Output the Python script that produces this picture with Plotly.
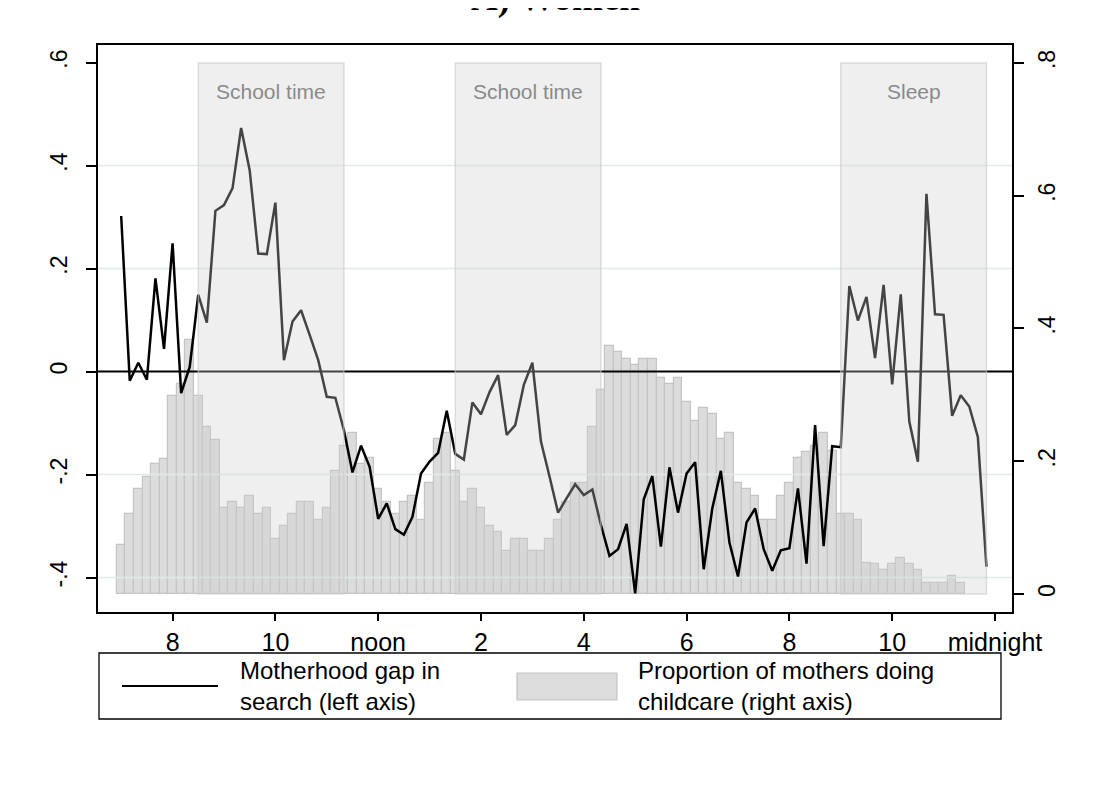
import numpy as np
import plotly.graph_objects as go

# ---------------- data ----------------
# Motherhood gap in search (left axis), every 10 minutes from 7:00 to 23:50
gap = [0.302, -0.018, 0.017, -0.016, 0.181, 0.044, 0.249, -0.042, 0.009, 0.149,
       0.095, 0.312, 0.323, 0.356, 0.473, 0.391, 0.229, 0.228, 0.328, 0.022,
       0.097, 0.119, 0.071, 0.022, -0.049, -0.051, -0.114, -0.196, -0.144, -0.185,
       -0.286, -0.256, -0.306, -0.317, -0.282, -0.198, -0.175, -0.158, -0.076, -0.160,
       -0.171, -0.060, -0.083, -0.040, -0.007, -0.123, -0.104, -0.026, 0.017, -0.136,
       -0.204, -0.274, -0.246, -0.219, -0.240, -0.229, -0.298, -0.358, -0.345, -0.296,
       -0.431, -0.248, -0.203, -0.340, -0.186, -0.274, -0.198, -0.176, -0.384, -0.266,
       -0.193, -0.332, -0.398, -0.293, -0.266, -0.345, -0.387, -0.347, -0.343, -0.227,
       -0.373, -0.104, -0.339, -0.145, -0.147, 0.166, 0.099, 0.145, 0.026, 0.168,
       -0.025, 0.150, -0.097, -0.175, 0.345, 0.111, 0.110, -0.086, -0.046, -0.068,
       -0.127, -0.379]

# Proportion of mothers doing childcare (right axis), every 10 minutes from 7:00 to 23:20
childcare = [0.074, 0.120, 0.158, 0.176, 0.196, 0.204, 0.298, 0.316, 0.383, 0.298,
             0.251, 0.232, 0.130, 0.139, 0.130, 0.148, 0.120, 0.130, 0.083, 0.102,
             0.120, 0.139, 0.139, 0.111, 0.130, 0.186, 0.223, 0.242, 0.196, 0.205,
             0.158, 0.139, 0.120, 0.139, 0.148, 0.111, 0.167, 0.233, 0.242, 0.186,
             0.139, 0.158, 0.130, 0.102, 0.093, 0.065, 0.083, 0.083, 0.065, 0.065,
             0.083, 0.111, 0.139, 0.167, 0.167, 0.251, 0.308, 0.373, 0.364, 0.354,
             0.345, 0.354, 0.354, 0.326, 0.317, 0.326, 0.289, 0.261, 0.280, 0.271,
             0.233, 0.242, 0.167, 0.158, 0.148, 0.111, 0.111, 0.148, 0.167, 0.205,
             0.214, 0.223, 0.242, 0.215, 0.121, 0.121, 0.111, 0.046, 0.045, 0.036,
             0.045, 0.055, 0.045, 0.036, 0.017, 0.017, 0.017, 0.027, 0.017]

start_hour = 7
step_hours = 1 / 6
line_hours = start_hour + np.arange(len(gap)) * step_hours
bar_hours = start_hour + np.arange(len(childcare)) * step_hours

x_tickvals = [8, 10, 12, 14, 16, 18, 20, 22, 24]
x_ticktext = ["8", "10", "noon", "2", "4", "6", "8", "10", "midnight"]
left_tickvals = [-0.4, -0.2, 0, 0.2, 0.4, 0.6]
left_ticktext = ["-.4", "-.2", "0", ".2", ".4", ".6"]
grid_vals = [-0.4, -0.2, 0.2, 0.4]
right_tickvals = [0, 0.2, 0.4, 0.6, 0.8]
right_ticktext = ["0", ".2", ".4", ".6", ".8"]

period_start = [8.5, 13.5, 21.0]
period_end = [11 + 1 / 3, 16 + 1 / 3, 23 + 5 / 6]
period_label = ["School time", "School time", "Sleep"]
period_top = 0.8

title_text = "A) Women"
legend_line_text = "Motherhood gap in<br>search (left axis)"
legend_bar_text = "Proportion of mothers doing<br>childcare (right axis)"

# ---------------- figure ----------------
FONT = "Liberation Sans, Arial, Helvetica, sans-serif"
X_RANGE = [6.549, 24.331]

fig = go.Figure()

fig.add_trace(go.Bar(
    x=bar_hours, y=childcare, width=step_hours, yaxis="y",
    marker=dict(color="#dcdcdc", line=dict(color="#c4c4c4", width=1.2)),
    showlegend=False, hoverinfo="skip"))

# light grid lines (drawn above bars, below the gap line)
for g in grid_vals:
    fig.add_trace(go.Scatter(
        x=X_RANGE, y=[g, g], yaxis="y2", mode="lines",
        line=dict(color="#e2eaea", width=1.3), showlegend=False, hoverinfo="skip"))

fig.add_trace(go.Scatter(
    x=line_hours, y=gap, yaxis="y2", mode="lines",
    line=dict(color="#000000", width=2.5), showlegend=False))

shapes = []
# zero line
shapes.append(dict(type="line", xref="paper", yref="y2", x0=0, x1=1, y0=0, y1=0,
                   line=dict(color="#000000", width=2), layer="above"))
# shaded periods
for s, e in zip(period_start, period_end):
    shapes.append(dict(type="rect", xref="x", yref="y", x0=s, x1=e, y0=0, y1=period_top,
                       fillcolor="rgba(205,205,205,0.33)",
                       line=dict(color="rgba(200,200,200,0.6)", width=1.5), layer="above"))

annotations = []
for s, e, lab in zip(period_start, period_end, period_label):
    annotations.append(dict(x=(s + e) / 2, xref="x", y=0.757, yref="y", text=lab,
                            showarrow=False, font=dict(family=FONT, size=21, color="#8a8a8a"),
                            xanchor="center", yanchor="middle"))

# title (mostly above the visible page, as in the reference)
annotations.append(dict(x=0.5, xref="paper", y=1.0415, yref="paper", text="<b>%s</b>" % title_text,
                        showarrow=False, xanchor="center", yanchor="bottom",
                        font=dict(family="Liberation Serif, Times New Roman, serif", size=37,
                                  color="#000000")))

# ---- legend drawn below the plot ----
PW, PH, L0, B0 = 914.0, 567.0, 98.0, 612.0


def px(xp):
    return (xp - L0) / PW


def py(yp):
    return (B0 - yp) / PH


shapes.append(dict(type="rect", xref="paper", yref="paper", x0=px(99), x1=px(1001),
                   y0=py(719), y1=py(653), line=dict(color="#000000", width=1.3),
                   fillcolor="rgba(0,0,0,0)"))
shapes.append(dict(type="line", xref="paper", yref="paper", x0=px(122), x1=px(218),
                   y0=py(686), y1=py(686), line=dict(color="#000000", width=2.2)))
shapes.append(dict(type="rect", xref="paper", yref="paper", x0=px(517), x1=px(617),
                   y0=py(700), y1=py(673), line=dict(color="#c4c4c4", width=1.2),
                   fillcolor="#dcdcdc"))
annotations.append(dict(x=px(238), xref="paper", y=py(686), yref="paper", text=legend_line_text,
                        showarrow=False, xanchor="left", yanchor="middle", align="left",
                        font=dict(family=FONT, size=24, color="#000000")))
annotations.append(dict(x=px(636), xref="paper", y=py(686), yref="paper", text=legend_bar_text,
                        showarrow=False, xanchor="left", yanchor="middle", align="left",
                        font=dict(family=FONT, size=24, color="#000000")))

axis_common = dict(showgrid=False, zeroline=False, showline=True, linecolor="#000000",
                   linewidth=1.5, ticks="outside", tickcolor="#000000", tickwidth=1.5)

# the html page adds an 8px body margin, so the figure is shrunk by that amount
fig.update_layout(
    width=1091, height=788,
    margin=dict(l=90, r=87, t=37, b=184),
    paper_bgcolor="#ffffff", plot_bgcolor="#ffffff",
    bargap=0, showlegend=False,
    font=dict(family=FONT, color="#000000"),
    xaxis=dict(range=X_RANGE, tickvals=x_tickvals, ticktext=x_ticktext, ticklen=7,
               tickfont=dict(size=25), mirror=True, **axis_common),
    yaxis=dict(range=[-0.0271, 0.827], side="right", tickvals=right_tickvals,
               ticktext=right_ticktext, tickangle=-90, ticklen=10,
               tickfont=dict(size=23), ticklabelstandoff=4, **axis_common),
    yaxis2=dict(range=[-0.467, 0.634], side="left", overlaying="y", tickvals=left_tickvals,
                ticktext=left_ticktext, tickangle=-90, ticklen=10,
                tickfont=dict(size=23), ticklabelstandoff=10, **axis_common),
    shapes=shapes, annotations=annotations,
)

fig.write_html("out.html")
